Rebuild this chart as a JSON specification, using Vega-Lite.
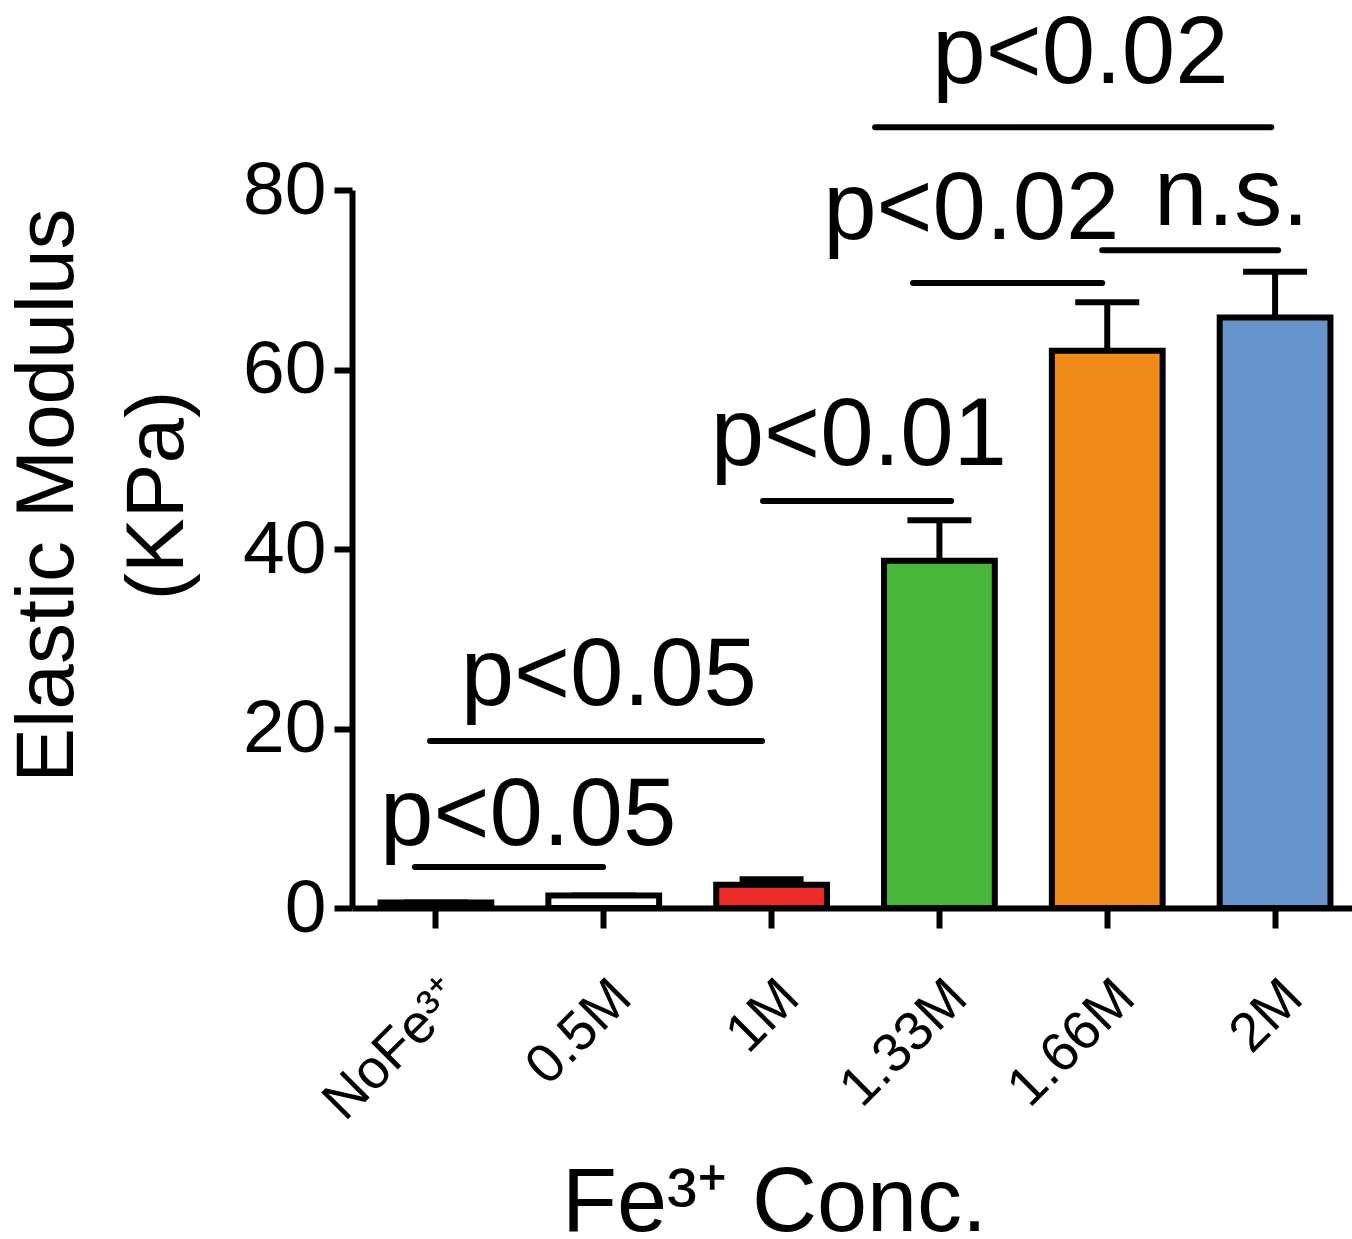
{
  "$schema": "https://vega.github.io/schema/vega-lite/v6.json",
  "autosize": {"type": "none"},
  "padding": {"left": 352, "top": 190, "right": 0, "bottom": 331},
  "width": 1000,
  "height": 718,
  "background": "white",
  "config": {
    "view": {"stroke": null},
    "font": "Liberation Sans",
    "axis": {"grid": false, "domainColor": "black", "tickColor": "black", "labelColor": "black", "titleColor": "black", "titleFontWeight": "normal"},
    "axisX": {"labelAngle": -45, "labelFontSize": 55, "labelAlign": "right", "labelBaseline": "top",
              "labelPadding": 42, "labelDx": 4, "tickSize": 20, "tickWidth": 6, "domainWidth": 6,
              "titleFontSize": 90, "titleX": 422, "titleY": 322,
              "titleAlign": "center", "titleBaseline": "alphabetic", "labelOverlap": false},
    "axisY": {"labelFontSize": 75, "labelPadding": 8, "tickSize": 18,
              "tickWidth": 6, "domainWidth": 6, "tickCount": 4,
              "titleFontSize": 82, "titleLineHeight": 110,
              "titleX": -280, "titleY": 305, "titleAlign": "center", "titleBaseline": "alphabetic",
              "titleAngle": -90}
  },
  "layer": [
    {
      "data": {
        "values": [
          {"conc": "NoFe³⁺", "mean": 0.6, "upper": 0.6},
          {"conc": "0.5M", "mean": 1.4, "upper": 1.4},
          {"conc": "1M", "mean": 2.6, "upper": 3.2},
          {"conc": "1.33M", "mean": 38.7, "upper": 43.2},
          {"conc": "1.66M", "mean": 62.1, "upper": 67.5},
          {"conc": "2M", "mean": 65.8, "upper": 70.9}
        ]
      },
      "encoding": {
        "x": {"field": "conc", "type": "nominal", "sort": null, "title": "Fe³⁺ Conc.",
              "scale": {"type": "band", "paddingInner": 0.34, "paddingOuter": 0.17, "range": [0, 1007]}}
      },
      "layer": [
        {
          "mark": {"type": "rule", "strokeWidth": 6, "color": "black"},
          "encoding": {
            "y": {"field": "mean", "type": "quantitative", "title": ["Elastic Modulus", "(KPa)"], "scale": {"domain": [0, 80], "nice": false, "zero": true}},
            "y2": {"field": "upper"}
          }
        },
        {
          "mark": {"type": "tick", "size": 64, "thickness": 6, "color": "black", "opacity": 1},
          "encoding": {
            "y": {"field": "upper", "type": "quantitative", "title": ["Elastic Modulus", "(KPa)"]}
          }
        },
        {
          "mark": {"type": "bar", "stroke": "black", "strokeWidth": 6, "strokeJoin": "miter"},
          "encoding": {
            "y": {"field": "mean", "type": "quantitative", "title": ["Elastic Modulus", "(KPa)"]},
            "fill": {"field": "conc", "type": "nominal", "legend": null,
                     "scale": {"domain": ["NoFe³⁺", "0.5M", "1M", "1.33M", "1.66M", "2M"],
                               "range": ["#ffffff", "#ffffff", "#ec2a26", "#47b839", "#f08a19", "#6794cb"]}}
          }
        }
      ]
    },
    {
      "data": {
        "values": [
          {"x1": 0.375, "x2": 1.496, "y": 4.57},
          {"x1": 0.465, "x2": 2.443, "y": 18.6},
          {"x1": 2.449, "x2": 3.57, "y": 45.35},
          {"x1": 3.343, "x2": 4.47, "y": 69.64},
          {"x1": 4.47, "x2": 5.518, "y": 73.3},
          {"x1": 3.117, "x2": 5.477, "y": 87.0}
        ]
      },
      "mark": {"type": "rule", "strokeWidth": 6, "color": "black", "strokeCap": "round"},
      "encoding": {
        "x": {"field": "x1", "type": "quantitative", "axis": null, "scale": {"domain": [0, 6], "range": [0, 1007], "nice": false, "zero": false}},
        "x2": {"field": "x2"},
        "y": {"field": "y", "type": "quantitative", "title": ["Elastic Modulus", "(KPa)"]}
      }
    },
    {
      "data": {
        "values": [
          {"label": "p<0.05", "x": 1.05, "y": 7.0},
          {"label": "p<0.05", "x": 1.53, "y": 22.6},
          {"label": "p<0.01", "x": 3.02, "y": 49.4},
          {"label": "p<0.02", "x": 3.69, "y": 74.5},
          {"label": "n.s.", "x": 5.24, "y": 76.1},
          {"label": "p<0.02", "x": 4.34, "y": 91.9}
        ]
      },
      "mark": {"type": "text", "fontSize": 96, "align": "center", "baseline": "alphabetic", "color": "black"},
      "encoding": {
        "x": {"field": "x", "type": "quantitative", "axis": null, "scale": {"domain": [0, 6], "range": [0, 1007], "nice": false, "zero": false}},
        "y": {"field": "y", "type": "quantitative", "title": ["Elastic Modulus", "(KPa)"]},
        "text": {"field": "label"}
      }
    }
  ],
  "resolve": {"scale": {"x": "independent"}, "axis": {"x": "independent"}}
}
